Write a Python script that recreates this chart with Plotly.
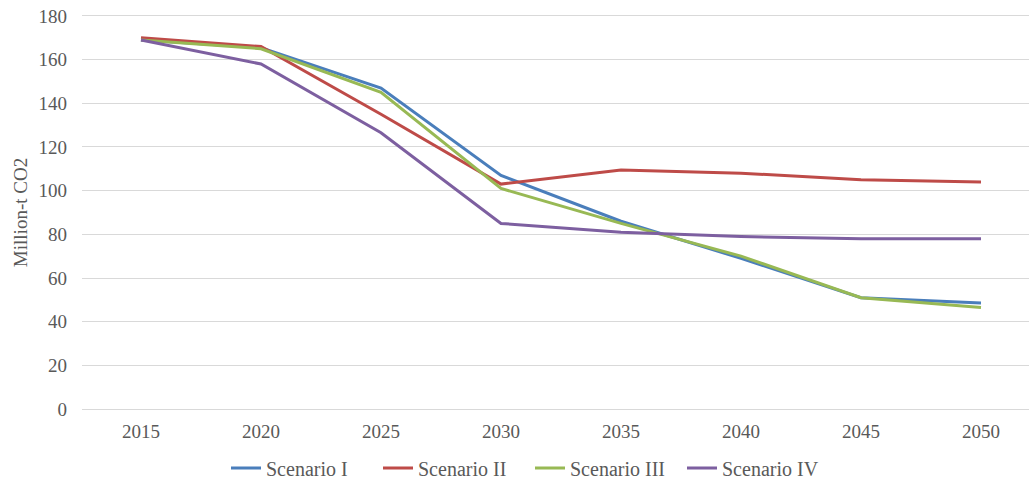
import plotly.graph_objects as go

years = ["2015", "2020", "2025", "2030", "2035", "2040", "2045", "2050"]
scenario_1 = [169, 165.5, 147, 107, 86, 69, 51, 48.5]
scenario_2 = [170, 166, 135, 103, 109.5, 108, 105, 104]
scenario_3 = [169, 165, 145, 101, 85, 70, 51, 46.5]
scenario_4 = [169, 158, 126.5, 85, 81, 79, 78, 78]

series = [
    ("Scenario I", scenario_1, "#4A7EBB"),
    ("Scenario II", scenario_2, "#BE4B48"),
    ("Scenario III", scenario_3, "#98B954"),
    ("Scenario IV", scenario_4, "#7D5FA0"),
]

fig = go.Figure()
xpos = list(range(len(years)))
for name, vals, color in series:
    fig.add_trace(go.Scatter(
        x=xpos, y=vals, name=name, mode="lines",
        line=dict(color=color, width=3),
    ))

font = dict(family="Liberation Serif, Times New Roman, serif", size=19, color="#595959")
legend_font = dict(font, size=20)

fig.update_layout(
    width=1029, height=481,
    margin=dict(l=82, r=0, t=14, b=70),
    paper_bgcolor="white", plot_bgcolor="white",
    font=font,
    showlegend=True,
    legend=dict(orientation="h", xref="container", x=226 / 1029, xanchor="left",
                yref="container", y=13 / 481, yanchor="middle",
                font=legend_font, itemwidth=30, entrywidth=107, entrywidthmode="pixels",
                traceorder="normal"),
    xaxis=dict(
        range=[-0.4917, 7.4], tickmode="array", tickvals=xpos, ticktext=years,
        showgrid=False, zeroline=False, showline=False, ticks="",
        ticklabelstandoff=7,
    ),
    yaxis=dict(
        range=[-0.9, 180.9], tickmode="array", tickvals=list(range(0, 181, 20)),
        showgrid=True, gridcolor="#D9D9D9", gridwidth=1,
        zeroline=True, zerolinecolor="#D9D9D9", zerolinewidth=1,
        showline=False, ticks="", ticklabelstandoff=14,
        title=dict(text="Million-t CO2", font=font, standoff=5),
    ),
)

fig.write_html("out.html")
